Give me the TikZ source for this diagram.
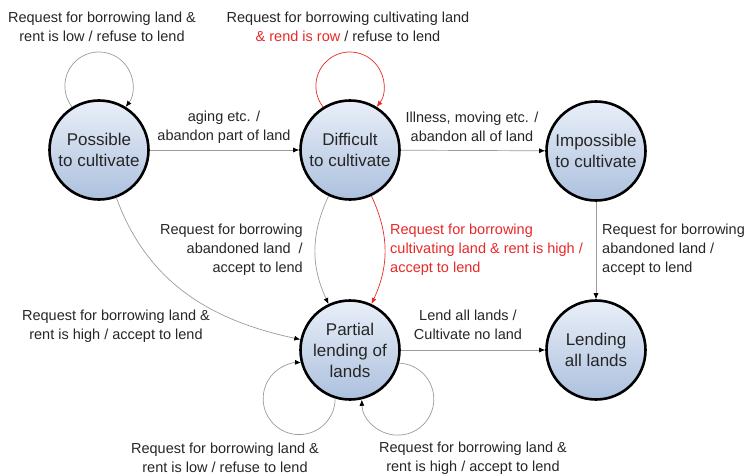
\documentclass[tikz,border=0pt]{standalone}
\usepackage{fontspec}
\setmainfont{Liberation Sans}
\usetikzlibrary{arrows.meta,shapes}
\definecolor{lineGray}{RGB}{155,155,155}
\definecolor{lineRed}{RGB}{232,40,40}
\definecolor{stateTop}{RGB}{233,239,248}
\definecolor{stateBottom}{RGB}{172,192,222}
\tikzstyle{state}=[circle,draw=black,line width=2.6pt,top color=stateTop,bottom color=stateBottom,minimum size=99pt,inner sep=0pt,align=center,text=black!85,font=\fontsize{17}{21}\selectfont]
\tikzstyle{edge}=[draw,lineGray,line width=0.7pt,-{Latex[black,length=6pt,width=5pt]}]
\tikzstyle{redge}=[draw,lineRed,line width=0.7pt,-{Latex[lineRed,length=6pt,width=5pt]}]
\tikzstyle{note}=[align=center,inner sep=0pt,font=\fontsize{14.5}{19}\selectfont,text=black!85]

\begin{document}
\begin{tikzpicture}[x=1pt,y=1pt]
    \useasboundingbox (0,0) rectangle (749,475);
    % First we draw the states
    \foreach \pos/\name/\txt in {{(99,325)/possible/{Possible\\to cultivate}}, {(350,325)/difficult/{Difficult\\to cultivate}}, {(596,324)/impossible/{Impossible\\to cultivate}}, {(350,125)/partial/{Partial\\lending of\\lands}}, {(596,125)/lending/{Lending\\all lands}}}
        \node[state] (\name) at \pos {\txt};

    % Straight transitions
    \foreach \source/\dest in {possible/difficult, difficult/impossible, impossible/lending, partial/lending}
        \path[edge] (\source) -- (\dest);

    % Curved transitions
    \path[edge] (possible) to[out=-70,in=168] (partial);
    \path[edge] (difficult) to[out=-115,in=115] (partial);
    \path[redge] (difficult) to[out=-65,in=65] (partial);

    % Self loops (round ones)
    \path[edge] (possible.122) arc[start angle=218,end angle=-38,radius=34];
    \path[redge] (difficult.122) arc[start angle=218,end angle=-38,radius=34];
    \path[edge] (partial.-107) arc[start angle=0,end angle=-273,radius=36];
    \path[edge] (partial.-15) arc[start angle=88,end angle=-179,radius=36];

    % Transition texts
    \node[note] (possibleLoopTxt) at (102,448) {Request for borrowing land \&\\rent is low / refuse to lend};
    \node[note] (difficultLoopTxt) at (348,448) {Request for borrowing cultivating land\\\textcolor{lineRed}{\& rend is row} / refuse to lend};
    \node[note] (agingTxt) at (224,348) {aging etc. /\\abandon part of land};
    \node[note] (illnessTxt) at (472,348) {Illness, moving etc. /\\abandon all of land};
    \node[note,anchor=east,align=right] (abandonedTxt) at (303,225) {Request for borrowing\\abandoned land~ /\\accept to lend};
    \node[note,anchor=west,align=left,text=lineRed] (highTxt) at (390,225) {Request for borrowing\\cultivating land \& rent is high /\\accept to lend};
    \node[note,anchor=west,align=left] (impossibleTxt) at (602,225) {Request for borrowing\\abandoned land /\\accept to lend};
    \node[note] (possibleHighTxt) at (116,149) {Request for borrowing land \&\\rent is high / accept to lend};
    \node[note] (lendAllTxt) at (468,150) {Lend all lands /\\Cultivate no land};
    \node[note] (partialLowTxt) at (225,17) {Request for borrowing land \&\\rent is low / refuse to lend};
    \node[note] (partialHighTxt) at (473,17) {Request for borrowing land \&\\rent is high / accept to lend};
\end{tikzpicture}
\end{document}
